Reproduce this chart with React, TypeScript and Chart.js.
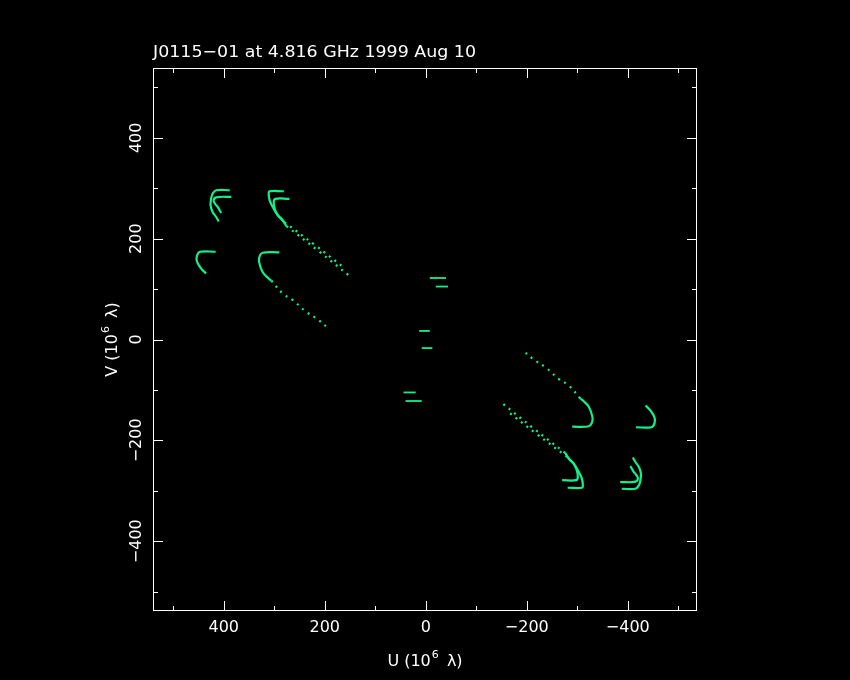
import React, { useEffect, useRef } from "react";
import { Chart, registerables } from "chart.js";

Chart.register(...registerables);

// ---- text ----
const TITLE = "J0115\u221201 at 4.816 GHz 1999 Aug 10";
const X_LABEL = ["U (10", "6", " \u03bb)"];
const Y_LABEL = ["V (10", "6", " \u03bb)"];

// ---- axes ----
const X_MIN = -537;
const X_MAX = 540;
const Y_MIN = -538.5;
const Y_MAX = 538.5;
const MAJOR_TICKS = [-400, -200, 0, 200, 400];
const MINOR_TICKS = [-500, -300, -100, 100, 300, 500];
const TICK_LABELS = ["\u2212400", "\u2212200", "0", "200", "400"];

// ---- uv tracks (U, V in 10^6 lambda); upper half, conjugates mirrored ----
const arcA1 = [[388, 296], [415, 296], [422, 289], [425, 279], [426, 266], [422, 253], [415, 243], [410, 234]];
const arcA2 = [[385, 283], [415, 282], [420, 276], [417, 269], [412, 263], [405, 251]];
const arcB = [[416, 174], [447, 174], [453, 166], [453, 155], [445, 141], [435, 131]];
const arcC1 = [[281, 294], [309, 294], [311, 289], [309, 276], [303, 263], [296, 251], [290, 243], [280, 233]];
const tailC1 = [[280, 233], [219, 187], [161, 142]];
const arcC2 = [[270, 279], [298, 279], [301, 273], [299, 259], [293, 246], [286, 240], [276, 225]];
const tailC2 = [[276, 225], [213, 176], [151, 126]];
const arcD = [[290, 173], [323, 172], [329, 165], [330, 154], [323, 134], [311, 121], [306, 117]];
const tailD = [[306, 117], [283, 91], [263, 78], [237, 55], [217, 42], [190, 20]];
const shortS1 = [[-8, 122], [-40, 122]];
const shortS2 = [[-20, 105], [-44, 105]];
const shortS3 = [[13, 17], [-8, 17]];

const TRACK_COLOR = "#12f08c";

const ARCS = [arcA1, arcA2, arcB, arcC1, arcC2, arcD];
const TAILS = [tailC1, tailC2, tailD];
const SHORTS = [shortS1, shortS2, shortS3];

const pts = (a: number[][]) => a.map(([u, v]) => ({ x: u, y: v }));
const conj = (a: number[][]) => a.map(([u, v]) => ({ x: -u, y: -v }));

function makeDatasets() {
  const ds: any[] = [];
  const add = (data: any[], kind: "arc" | "tail" | "short") => {
    ds.push({
      data,
      showLine: true,
      pointRadius: 0,
      borderColor: TRACK_COLOR,
      borderWidth: kind === "short" ? 1.8 : kind === "tail" ? 2.2 : 2.2,
      borderDash: kind === "tail" ? [2, 5] : [],
      tension: kind === "short" ? 0 : 0.4,
      fill: false,
    });
  };
  ARCS.forEach((a) => { add(pts(a), "arc"); add(conj(a), "arc"); });
  TAILS.forEach((a) => { add(pts(a), "tail"); add(conj(a), "tail"); });
  SHORTS.forEach((a) => { add(pts(a), "short"); add(conj(a), "short"); });
  return ds;
}

const FONT = '"DejaVu Sans", sans-serif';

function drawSupLabel(ctx: CanvasRenderingContext2D, parts: string[], cx: number, cy: number) {
  ctx.font = `16px ${FONT}`;
  const w0 = ctx.measureText(parts[0]).width;
  const w2 = ctx.measureText(parts[2]).width;
  ctx.font = `11px ${FONT}`;
  const w1 = ctx.measureText(parts[1]).width;
  const total = w0 + w1 + w2 + 4;
  let x = cx - total / 2;
  ctx.textAlign = "left";
  ctx.textBaseline = "middle";
  ctx.font = `16px ${FONT}`;
  ctx.fillText(parts[0], x, cy);
  x += w0 + 1;
  ctx.font = `11px ${FONT}`;
  ctx.fillText(parts[1], x, cy - 7);
  x += w1 + 3;
  ctx.font = `16px ${FONT}`;
  ctx.fillText(parts[2], x, cy);
}

const framePlugin = {
  id: "pgframe",
  beforeDraw(chart: any) {
    const ctx = chart.ctx;
    ctx.save();
    ctx.fillStyle = "#000";
    ctx.fillRect(0, 0, chart.width, chart.height);
    ctx.restore();
  },
  afterDraw(chart: any) {
    const ctx: CanvasRenderingContext2D = chart.ctx;
    const { left, right, top, bottom } = chart.chartArea;
    const xs = chart.scales.x;
    const ys = chart.scales.y;
    ctx.save();
    ctx.strokeStyle = "#fff";
    ctx.fillStyle = "#fff";
    ctx.lineWidth = 1;
    ctx.strokeRect(left + 0.5, top + 0.5, right - left - 1, bottom - top - 1);

    const drawTicks = (vals: number[], len: number) => {
      ctx.beginPath();
      vals.forEach((v) => {
        const px = Math.round(xs.getPixelForValue(v)) + 0.5;
        ctx.moveTo(px, bottom);
        ctx.lineTo(px, bottom - len);
        ctx.moveTo(px, top);
        ctx.lineTo(px, top + len);
        const py = Math.round(ys.getPixelForValue(v)) + 0.5;
        ctx.moveTo(left, py);
        ctx.lineTo(left + len, py);
        ctx.moveTo(right, py);
        ctx.lineTo(right - len, py);
      });
      ctx.stroke();
    };
    drawTicks(MAJOR_TICKS, 10);
    drawTicks(MINOR_TICKS, 5);

    ctx.font = `16px ${FONT}`;
    ctx.textAlign = "center";
    ctx.textBaseline = "middle";
    MAJOR_TICKS.forEach((v, i) => {
      const px = xs.getPixelForValue(v);
      ctx.fillText(TICK_LABELS[i], px, 628);
      const py = ys.getPixelForValue(v);
      ctx.save();
      ctx.translate(137, py);
      ctx.rotate(-Math.PI / 2);
      ctx.fillText(TICK_LABELS[i], 0, 0);
      ctx.restore();
    });

    drawSupLabel(ctx, X_LABEL, (left + right) / 2, 662);
    ctx.save();
    ctx.translate(113, (top + bottom) / 2);
    ctx.rotate(-Math.PI / 2);
    drawSupLabel(ctx, Y_LABEL, 0, 0);
    ctx.restore();

    // title, stretched to the reference's width
    ctx.font = `16px ${FONT}`;
    ctx.textAlign = "left";
    ctx.textBaseline = "alphabetic";
    const tw = ctx.measureText(TITLE).width;
    ctx.save();
    ctx.translate(153, 57);
    ctx.scale(323 / tw, 1.03);
    ctx.fillText(TITLE, 0, 0);
    ctx.restore();
    ctx.restore();
  },
};

export default function App() {
  const ref = useRef<HTMLCanvasElement | null>(null);
  useEffect(() => {
    document.body.style.margin = "0";
    document.body.style.background = "#000";
    const chart = new Chart(ref.current as HTMLCanvasElement, {
      type: "scatter",
      data: { datasets: makeDatasets() },
      options: {
        animation: false,
        responsive: false,
        devicePixelRatio: 1,
        layout: { padding: { left: 153, right: 153, top: 68, bottom: 69 } },
        plugins: { legend: { display: false }, tooltip: { enabled: false }, title: { display: false } },
        scales: {
          x: { type: "linear", min: X_MIN, max: X_MAX, reverse: true, display: false },
          y: { type: "linear", min: Y_MIN, max: Y_MAX, display: false },
        },
      },
      plugins: [framePlugin],
    });
    return () => chart.destroy();
  }, []);
  return (
    <div style={{ position: "absolute", left: 0, top: 0, width: 850, height: 680, background: "#000" }}>
      <canvas ref={ref} width={850} height={680} style={{ display: "block" }} />
    </div>
  );
}
